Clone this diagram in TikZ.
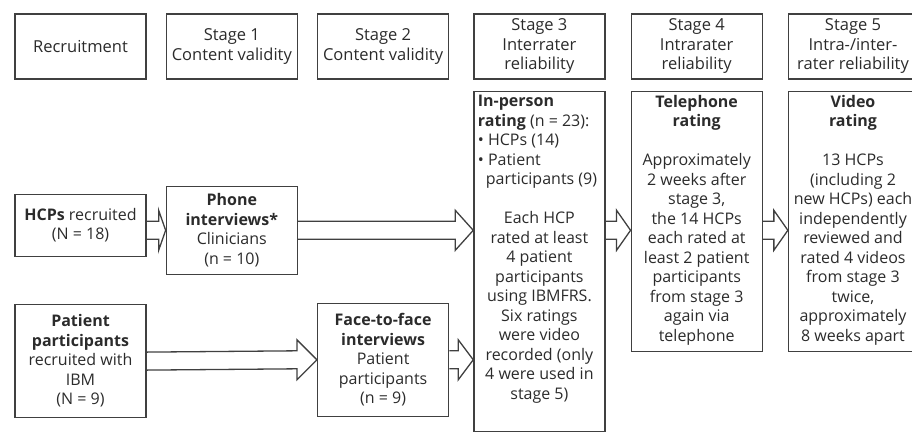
\documentclass[tikz,border=0pt]{standalone}
\usepackage{fontspec}
\setmainfont{Open Sans}
\usepackage{tikz}
\usetikzlibrary{positioning,calc}
\definecolor{cLine}{HTML}{404040}
\definecolor{cText}{HTML}{2B2B2B}
\newcommand{\blockarrow}[3][18pt]{%
  \draw[hollow] ($(#2)+(0,9pt)$) -- ($(#3)+(-#1,9pt)$) -- ($(#3)+(-#1,20pt)$)
    -- (#3) -- ($(#3)+(-#1,-20pt)$) -- ($(#3)+(-#1,-9pt)$) -- ($(#2)+(0,-9pt)$);}
\newcommand{\bodytext}[2]{\parbox[t][#1][t]{123pt}{#2}}

\begin{document}
\begin{tikzpicture}[
    font=\fontsize{16}{19.5}\selectfont, text=cText,
    hdr/.style={rectangle, draw=cLine, line width=1.3pt, minimum width=131pt,
      minimum height=65pt, align=center, inner sep=4pt,
      font=\fontsize{16.5}{19.5}\selectfont},
    side/.style={rectangle, draw=cLine, line width=1.3pt, minimum width=131pt,
      align=center, inner sep=4pt},
    body/.style={rectangle, draw=cLine, line width=1.3pt, inner sep=4pt},
    hollow/.style={draw=cLine, line width=1.3pt, line join=miter},
    node distance=19pt]

    \useasboundingbox (0,0) rectangle (912pt,-432pt);

    \node[hdr] (rec) at (80.5pt,-46.5pt) {Recruitment};
    \node[hdr, right=19pt of rec] (st1) {Stage 1\\Content validity};
    \node[hdr, right=19pt of st1] (st2) {Stage 2\\Content validity};
    \node[hdr, right=24pt of st2] (st3) {Stage 3\\Interrater\\reliability};
    \node[hdr, right=25pt of st3] (st4) {Stage 4\\Intrarater\\reliability};
    \node[hdr, right=25pt of st4, minimum width=129pt] (st5) {Stage 5\\Intra-/inter-\\rater reliability};

    \node[side, minimum height=62pt, below=114pt of rec] (hcp) {\textbf{HCPs} recruited\\(N = 18)};
    \node[side, minimum height=88pt, below=106pt of st1] (phone)
      {\textbf{Phone}\\\textbf{interviews*}\\Clinicians\\(n = 10)};
    \node[side, minimum height=113pt, below=47pt of hcp] (pat)
      {\textbf{Patient}\\\textbf{participants}\\recruited with\\IBM\\(N = 9)};
    \node[side, minimum height=113pt, below=223pt of st2] (face)
      {\textbf{Face-to-face}\\\textbf{interviews}\\Patient\\participants\\(n = 9)};

    \node[body, below=11pt of st3] (rate3) {\bodytext{332pt}{\raggedright
      \textbf{In-person}\\
      \textbf{rating} (n = 23):\\
      \textbullet\ HCPs (14)\\
      \textbullet\ Patient\\
      \hspace*{0.5em}participants (9)\par
      \vspace{19.5pt}\centering
      Each HCP\\rated at least\\4 patient\\participants\\using IBMFRS.\\Six ratings\\were video\\recorded (only\\4 were used in\\stage 5)}};
    \node[body, below=11pt of st4] (rate4) {\bodytext{252pt}{\centering
      \textbf{Telephone}\\\textbf{rating}\\[19.5pt]
      Approximately\\2 weeks after\\stage 3,\\the 14 HCPs\\each rated at\\least 2 patient\\participants\\from stage 3\\again via\\telephone}};
    \node[body, below=11pt of st5, inner xsep=3pt] (rate5) {\bodytext{252pt}{\centering
      \textbf{Video}\\\textbf{rating}\\[19.5pt]
      13 HCPs\\(including 2\\new HCPs) each\\independently\\reviewed and\\rated 4 videos\\from stage 3\\twice,\\approximately\\8 weeks apart}};

    \blockarrow[7pt]{hcp.east |- phone}{phone.west}
    \blockarrow{phone.east}{phone -| rate3.west}
    \blockarrow[20pt]{pat.east}{face.west}
    \blockarrow[15pt]{face.east}{face -| rate3.west}
    \blockarrow[14pt]{rate3.east |- phone}{rate4.west |- phone}
    \blockarrow[14pt]{rate4.east |- phone}{rate5.west |- phone}
  \end{tikzpicture}
\end{document}
